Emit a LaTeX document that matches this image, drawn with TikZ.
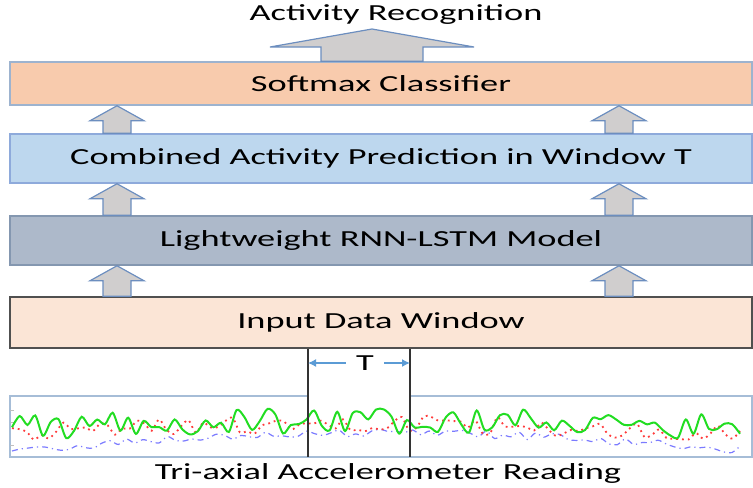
\documentclass[tikz,border=0pt]{standalone}
\usepackage{fontspec}
\setmainfont{Carlito}[FakeStretch=1.58]
\usetikzlibrary{calc,arrows.meta}

\definecolor{softfill}{HTML}{F8CBAD}
\definecolor{softline}{HTML}{9DB3CF}
\definecolor{combfill}{HTML}{BDD7EE}
\definecolor{combline}{HTML}{8EAADB}
\definecolor{lstmfill}{HTML}{ADB9CA}
\definecolor{lstmline}{HTML}{8497B0}
\definecolor{inpfill}{HTML}{FBE5D6}
\definecolor{inpline}{HTML}{505050}
\definecolor{arrfill}{HTML}{D0CECE}
\definecolor{arrline}{HTML}{6C8EBF}
\definecolor{tblue}{HTML}{5B9BD5}
\definecolor{frameline}{HTML}{A6BDD7}
\definecolor{sigx}{HTML}{22DD22}
\definecolor{sigy}{HTML}{FF3B3B}
\definecolor{sigz}{HTML}{5A5AFF}

\tikzset{
  layer/.style={draw, line width=0.75pt, minimum width=371pt, inner sep=0pt},
  blockarrow/.style={fill=arrfill, draw=arrline, line width=0.6pt},
  winline/.style={black!80, line width=0.7pt},
  tarrow/.style={tblue, line width=0.7pt, -{Latex[length=4pt,width=4pt]}}
}

\newcommand\liftarrow[3]{%
  \coordinate (lb) at (#1,0 |- #2.north);
  \coordinate (lt) at (#1,0 |- #3.south);
  \filldraw[blockarrow] ($(lb)+(-14,0)$) -- ($(lt)+(-14,15)$) -- ($(lt)+(-27,15)$) -- (lt)
    -- ($(lt)+(27,15)$) -- ($(lt)+(14,15)$) -- ($(lb)+(14,0)$) -- cycle;}

\begin{document}
\begin{tikzpicture}[x=0.5pt, y=-0.5pt, font=\fontsize{11.5}{13}\selectfont]
  \useasboundingbox (0,0) rectangle (753,487);

  \node[layer, fill=softfill, draw=softline, minimum height=21.5pt] (soft) at (381,83.5) {Softmax Classifier};
  \node[layer, fill=combfill, draw=combline, minimum height=24.5pt] (comb) at (381,158.5) {Combined Activity Prediction in Window T};
  \node[layer, fill=lstmfill, draw=lstmline, minimum height=24.5pt] (lstm) at (381,240.5) {Lightweight RNN-LSTM Model};
  \node[layer, fill=inpfill, draw=inpline, minimum height=25.5pt] (input) at (381,322.5) {Input Data Window};

  \liftarrow{117}{comb}{soft}
  \liftarrow{619}{comb}{soft}
  \liftarrow{117}{lstm}{comb}
  \liftarrow{619}{lstm}{comb}
  \liftarrow{117}{input}{lstm}
  \liftarrow{619}{input}{lstm}

  \node (title) at (396,15) {Activity Recognition};
  \coordinate (goal) at (372,29);
  \coordinate (gb) at (372,0 |- soft.north);
  \filldraw[blockarrow] ($(gb)+(-51,0)$) -- ($(goal)+(-51,18)$) -- ($(goal)+(-102,18)$) -- (goal)
    -- ($(goal)+(102,18)$) -- ($(goal)+(51,18)$) -- ($(gb)+(51,0)$) -- cycle;

  % accelerometer trace
  \draw[frameline, line width=0.8pt] (308,396) -- (10,396) -- (10,457) -- (752,457) -- (752,396) -- (410,396);
  \foreach \ty in {410,422,445} \draw[gray!50] (10,\ty) -- (14,\ty);
  \begin{scope}
    \clip (11,397) rectangle (751,456);
    \pgfmathsetseed{11}
    \draw[sigz!80, line width=0.6pt, dash dot] plot[smooth, domain=12:740, samples=90]
      (\x, {451 - 18*sin((\x-10)/742*180) + 4*rand});
    \pgfmathsetseed{23}
    \draw[sigy, line width=0.9pt, dotted] plot[smooth, domain=12:740, samples=100]
      (\x, {433 - 8*sin((\x-10)/742*180) + 9*rand});
    \pgfmathsetseed{5}
    \draw[sigx, line width=1pt] plot[smooth, domain=12:740, samples=95]
      (\x, {428 - 7*sin((\x-10)/742*180) + 13*rand});
  \end{scope}

  \coordinate (wl) at (308,0 |- input.south);
  \coordinate (wr) at (410,0 |- input.south);
  \draw[winline] (wl) -- (308,457);
  \draw[winline] (wr) -- (410,457);
  \node[inner sep=5pt] (tlab) at (365,363) {T};
  \draw[tarrow] (tlab.west) -- (wl |- tlab);
  \draw[tarrow] (tlab.east) -- (wr |- tlab);

  \node (reading) at (388,473) {Tri-axial Accelerometer Reading};
\end{tikzpicture}
\end{document}
